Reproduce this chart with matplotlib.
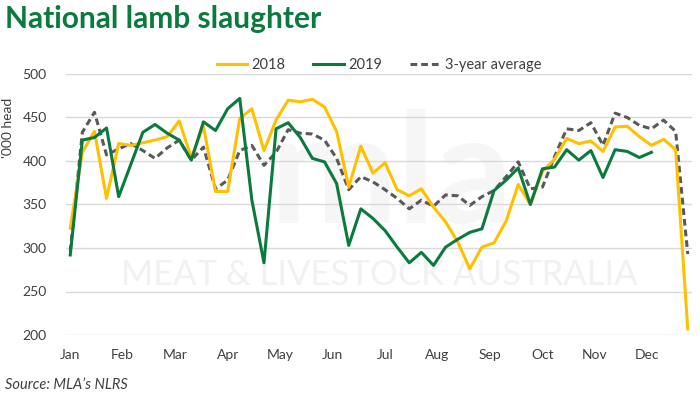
import numpy as np
import matplotlib
matplotlib.use("Agg")
import matplotlib.pyplot as plt

# weekly lamb slaughter, '000 head
y2018 = [323, 410, 434, 357, 420, 418, 421, 424, 428, 446, 404, 440, 365, 365,
         449, 460, 412, 447, 470, 468, 471, 462, 434, 370, 417, 386, 398, 367,
         360, 368, 347, 330, 307, 276, 301, 306, 331, 373, 350, 388, 402, 426,
         420, 423, 411, 439, 440, 428, 418, 425, 413, 207]
y2019 = [292, 424, 427, 438, 359, 396, 433, 442, 432, 424, 401, 445, 435, 460,
         472, 355, 283, 437, 444, 427, 403, 399, 374, 303, 345, 334, 320, 301,
         283, 295, 280, 301, 310, 318, 322, 366, 378, 392, 350, 391, 393, 413,
         401, 412, 381, 413, 411, 404, 410]
avg3 = [296, 433, 456, 407, 414, 420, 412, 403, 415, 424, 401, 416, 368, 378,
        412, 418, 395, 410, 436, 432, 431, 424, 403, 367, 382, 376, 367, 357,
        345, 355, 348, 361, 360, 349, 359, 366, 382, 399, 368, 370, 405, 437,
        435, 444, 418, 455, 450, 441, 437, 447, 434, 293]
months = ["Jan", "Feb", "Mar", "Apr", "May", "Jun", "Jul", "Aug", "Sep", "Oct", "Nov", "Dec"]
yticks = [200, 250, 300, 350, 400, 450, 500]

plt.rcParams['font.family'] = ['Lato', 'DejaVu Sans']

fig = plt.figure(figsize=(7, 3.99), dpi=100)
ax = fig.add_axes([66/700, 1 - 335/399, 626/700, 261/399])

# faint watermark
ax.text(0.52, 0.33, "mla", transform=ax.transAxes, fontsize=110, fontweight="bold",
        color="#f6f6f6", ha="center", va="bottom", zorder=0)
ax.text(0.5, 0.23, "MEAT & LIVESTOCK AUSTRALIA", transform=ax.transAxes, fontsize=25,
        color="#f1f1f1", ha="center", va="center", zorder=0)

ax.plot(np.arange(len(y2018)), y2018, color="#FFC000", lw=2.2, label="2018", zorder=3)
ax.plot(np.arange(len(y2019)), y2019, color="#0B7A3E", lw=2.2, label="2019", zorder=4)
ax.plot(np.arange(len(avg3)), avg3, color="#595959", lw=2.2, ls=(0, (2.2, 1.3)),
        label="3-year average", zorder=2)

ax.set_xlim(-0.35, 51.35)
ax.set_ylim(200, 500)
ax.set_yticks(yticks)
ax.set_xticks(np.arange(12) * 52 / 12)
ax.set_xticklabels(months)
ax.grid(axis="y", color="#d9d9d9", lw=1)
ax.set_axisbelow(True)
for s in ax.spines.values():
    s.set_visible(False)
ax.tick_params(length=0, labelsize=10, labelcolor="#404040")
ax.tick_params(axis="x", pad=10)
ax.tick_params(axis="y", pad=14)

ax.legend(loc="lower center", bbox_to_anchor=(0.5, 0.985), ncol=3, frameon=False,
          fontsize=10.5, handlelength=2.1, columnspacing=1.9, handletextpad=0.3,
          borderaxespad=0.0, labelcolor="#404040")

fig.text(0.007, 0.953, "National lamb slaughter", fontsize=21.5, fontweight="bold",
         color="#0B7A3E", va="center")
fig.text(0.012, 0.68, "'000 head", rotation=90, fontsize=10, color="#404040",
         va="center", ha="center")
fig.text(0.007, 0.035, "Source: MLA\u2019s NLRS", fontsize=10.5, style="italic",
         color="#404040", va="center")

fig.savefig("out.png", dpi=100)
